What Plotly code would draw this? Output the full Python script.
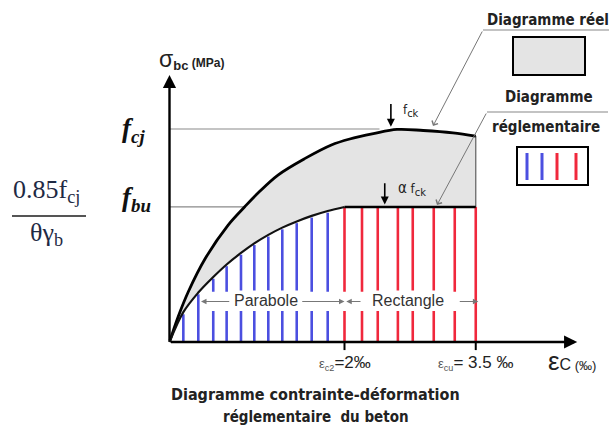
import plotly.graph_objects as go

# ---------------- data ----------------
# strain in per-mille, stress relative to f_cj
FCJ = 1.0
FBU = 0.634
EPS_C2 = 2.0
EPS_CU = 3.5

EPS_REAL = [0, 0.10, 0.215, 0.41, 0.67, 0.86, 1.02, 1.24, 1.55, 1.85, 2.06, 2.33, 2.60, 2.90, 3.24, 3.5]
SIG_REAL = [0, 0.12, 0.236, 0.393, 0.549, 0.635, 0.703, 0.784, 0.862, 0.925, 0.953, 0.978, 0.998, 0.993, 0.982, 0.967]

EPS_PARA = [0, 0.158, 0.329, 0.50, 0.653, 0.817, 0.969, 1.129, 1.289, 1.454, 1.625, 1.808, 2.0]
SIG_PARA = [0, 0.140, 0.232, 0.305, 0.364, 0.418, 0.463, 0.503, 0.537, 0.566, 0.592, 0.615, 0.634]

BLUE_X = [0.158, 0.329, 0.50, 0.653, 0.817, 0.969, 1.129, 1.289, 1.454, 1.625, 1.808]
BLUE_TOP = [0.130, 0.224, 0.297, 0.356, 0.410, 0.455, 0.495, 0.529, 0.558, 0.584, 0.607]
RED_X = [2.0, 2.2, 2.38, 2.61, 2.78, 3.02, 3.26, 3.5]

FCJ_LINE_END = 2.40
FBU_LINE_END = 0.86
X_AXIS_END = 4.66
Y_AXIS_END = 1.254

TICK_LABELS = ["<span style='font-size:13px;color:#555'>ε<sub>c2</sub></span>=2‰",
               "<span style='font-size:13px;color:#555'>ε<sub>cu</sub></span>= 3.5 ‰"]

BLUE = "#4b4fe0"
RED = "#f0283c"
GREY_FILL = "#e4e4e4"
SANS = "Liberation Sans Narrow, DejaVu Sans Condensed, Liberation Sans, Arial"
SERIF = "Liberation Serif, Times New Roman, serif"

W, H = 615, 429
X0PX, XSC = 169.5, 87.5
Y0PX, YSC = 342.0, 213.0


def PX(x):
    return x / W


def PY(y):
    return 1 - y / H


fig = go.Figure()

# grey area between real diagram and regulatory diagram
reg_x = EPS_PARA + [EPS_CU]
reg_y = SIG_PARA + [FBU]
poly_x = EPS_REAL + [EPS_CU] + reg_x[::-1]
poly_y = SIG_REAL + [FBU] + reg_y[::-1]
fig.add_trace(go.Scatter(x=poly_x, y=poly_y, fill="toself", fillcolor=GREY_FILL,
                         line=dict(width=0), mode="lines", hoverinfo="skip"))

# reference horizontal lines
fig.add_trace(go.Scatter(x=[0, FCJ_LINE_END], y=[FCJ, FCJ], mode="lines",
                         line=dict(color="#8a8a8a", width=1.2)))
fig.add_trace(go.Scatter(x=[0, FBU_LINE_END], y=[FBU, FBU], mode="lines",
                         line=dict(color="#8a8a8a", width=1.2)))

# hatch lines
bx, by = [], []
for x, t in zip(BLUE_X, BLUE_TOP):
    bx += [x, x, None]
    by += [0, t, None]
fig.add_trace(go.Scatter(x=bx, y=by, mode="lines", line=dict(color=BLUE, width=2.6)))
rx, ry = [], []
for x in RED_X:
    rx += [x, x, None]
    ry += [0, FBU, None]
fig.add_trace(go.Scatter(x=rx, y=ry, mode="lines", line=dict(color=RED, width=2.6)))

# right edge of grey area
fig.add_trace(go.Scatter(x=[EPS_CU, EPS_CU], y=[FBU, SIG_REAL[-1]], mode="lines",
                         line=dict(color="#6a6a6a", width=1.3)))

# curves
fig.add_trace(go.Scatter(x=EPS_REAL, y=SIG_REAL, mode="lines", line_shape="spline",
                         line=dict(color="black", width=2.8)))
fig.add_trace(go.Scatter(x=EPS_PARA, y=SIG_PARA, mode="lines", line_shape="spline",
                         line=dict(color="#111", width=2.2)))
fig.add_trace(go.Scatter(x=[EPS_C2, EPS_CU], y=[FBU, FBU], mode="lines",
                         line=dict(color="black", width=2.4)))

# ticks on the strain axis
fig.add_trace(go.Scatter(x=[EPS_C2, EPS_C2, None, EPS_CU, EPS_CU],
                         y=[0, -0.038, None, 0, -0.038], mode="lines",
                         line=dict(color="black", width=2)))

# white band behind "Parabole" / "Rectangle"
fig.add_shape(type="rect", xref="x", yref="y", x0=0.40, x1=3.40, y0=0.146, y1=0.236,
              fillcolor="white", line=dict(width=0), layer="above")

ann = []


def txt(xp, yp, text, size, family=SANS, color="#222", xanchor="center", **kw):
    ann.append(dict(x=PX(xp), y=PY(yp), xref="paper", yref="paper", xanchor=xanchor, yanchor="middle",
                    text=text, showarrow=False, font=dict(family=family, size=size, color=color), **kw))


# axes with arrows
ann.append(dict(x=0, y=Y_AXIS_END, ax=0, ay=0, axref="x", ayref="y", xref="x", yref="y",
                text="", showarrow=True, arrowhead=2, arrowsize=1.1, arrowwidth=2.4, arrowcolor="black"))
ann.append(dict(x=X_AXIS_END, y=0, ax=0, ay=0, axref="x", ayref="y", xref="x", yref="y",
                text="", showarrow=True, arrowhead=2, arrowsize=1.1, arrowwidth=2.4, arrowcolor="black"))

# Parabole / Rectangle dimension arrows
arr_y = 0.19
for head, tail in [(0.36, 0.70), (2.0, 1.50), (2.02, 2.20), (3.53, 3.30)]:
    ann.append(dict(x=head, y=arr_y, ax=tail, ay=arr_y, axref="x", ayref="y", xref="x", yref="y",
                    text="", showarrow=True, arrowhead=2, arrowsize=1, arrowwidth=1.1, arrowcolor="#777"))
ann.append(dict(x=1.10, y=0.196, xref="x", yref="y", text="Parabole", showarrow=False,
                xanchor="center", yanchor="middle",
                font=dict(family="Liberation Sans, Arial", size=16, color="#333"), bgcolor="white"))
ann.append(dict(x=2.72, y=0.196, xref="x", yref="y", text="Rectangle", showarrow=False,
                xanchor="center", yanchor="middle",
                font=dict(family="Liberation Sans, Arial", size=16, color="#333"), bgcolor="white"))

# f_ck arrows
ann.append(dict(x=2.53, y=1.01, ax=2.53, ay=1.125, axref="x", ayref="y", xref="x", yref="y",
                text="", showarrow=True, arrowhead=2, arrowsize=1, arrowwidth=1.6, arrowcolor="black"))
ann.append(dict(x=2.46, y=FBU + 0.012, ax=2.46, ay=0.752, axref="x", ayref="y", xref="x", yref="y",
                text="", showarrow=True, arrowhead=2, arrowsize=1, arrowwidth=1.6, arrowcolor="black"))
txt(401, 111, "f<sub><span style='font-size:11px'>ck</span></sub>", 13, xanchor="left")
txt(396, 189, "<span style='font-size:15px'>α</span> f<sub><span style='font-size:11px'>ck</span></sub>", 13,
    xanchor="left")

# axis titles
txt(157, 59, "<span style='font-size:23px'>σ</span><b><sub><span style='font-size:13px'>bc</span></sub>"
             " (MPa)</b>", 12, family="Liberation Sans, Arial", xanchor="left")
txt(546, 361, "<span style='font-size:26px'>ε</span><span style='font-size:16px'>C</span> (‰)", 13,
    family="Liberation Sans, Arial", xanchor="left")
for xv, lab in zip([EPS_C2, EPS_CU], TICK_LABELS):
    ann.append(dict(x=xv, y=-0.10, xref="x", yref="y", text=lab, showarrow=False,
                    xanchor="center", yanchor="middle",
                    font=dict(family="Liberation Sans, Arial", size=17, color="#222")))

# left labels
txt(133, 130, "<b><i>f<sub>cj</sub></i></b>", 27, family=SERIF, color="#111")
txt(136, 199, "<b><i>f<sub>bu</sub></i></b>", 27, family=SERIF, color="#111")
txt(11, 191, "0.85f<sub>cj</sub>", 26, family=SERIF, color="#1f2a44", xanchor="left")
txt(28, 234, "θγ<sub>b</sub>", 26, family=SERIF, color="#1f2a44", xanchor="left")
fig.add_shape(type="line", xref="paper", yref="paper", x0=PX(12), x1=PX(86), y0=PY(216), y1=PY(216),
              line=dict(color="#555", width=2))

# caption
txt(315, 394, "<b>Diagramme contrainte-déformation</b>", 16)
txt(316, 417, "<b>réglementaire  du beton</b>", 15)

# legend texts
txt(548, 20, "<b>Diagramme réel</b>", 15)
txt(549, 97, "<b>Diagramme</b>", 15)
txt(546, 127, "<b>réglementaire</b>", 15)

# leader lines
ann.append(dict(x=PX(433), y=PY(126), xref="paper", yref="paper", ax=50, ay=-96, text="",
                showarrow=True, arrowhead=4, arrowsize=1.3, arrowwidth=1, arrowcolor="#777"))
ann.append(dict(x=PX(437), y=PY(205), xref="paper", yref="paper", ax=50, ay=-93, text="",
                showarrow=True, arrowhead=4, arrowsize=1.3, arrowwidth=1, arrowcolor="#777"))
fig.add_shape(type="line", xref="paper", yref="paper", x0=PX(483), x1=PX(609), y0=PY(30), y1=PY(30),
              line=dict(color="#888", width=1.2))
fig.add_shape(type="line", xref="paper", yref="paper", x0=PX(487), x1=PX(608), y0=PY(112), y1=PY(112),
              line=dict(color="#888", width=1.2))

# legend boxes
fig.add_shape(type="rect", xref="paper", yref="paper", x0=PX(513), x1=PX(585), y0=PY(75), y1=PY(37),
              fillcolor=GREY_FILL, line=dict(color="black", width=2))
fig.add_shape(type="rect", xref="paper", yref="paper", x0=PX(517), x1=PX(588), y0=PY(185), y1=PY(147),
              fillcolor="white", line=dict(color="black", width=2))
for xp, c in [(527, BLUE), (542, BLUE), (557, RED), (576, RED)]:
    fig.add_shape(type="line", xref="paper", yref="paper", x0=PX(xp), x1=PX(xp), y0=PY(180), y1=PY(153),
                  line=dict(color=c, width=3))

fig.update_layout(
    width=W, height=H, autosize=False,
    margin=dict(l=0, r=0, t=0, b=0),
    paper_bgcolor="white", plot_bgcolor="white",
    showlegend=False,
    annotations=ann,
    xaxis=dict(visible=False, range=[-X0PX / XSC, (W - X0PX) / XSC], fixedrange=True),
    yaxis=dict(visible=False, range=[-(H - Y0PX) / YSC, Y0PX / YSC], fixedrange=True),
)

fig.write_html("out.html", config=dict(displayModeBar=False),
               post_script="document.body.style.margin='0px';document.body.style.overflow='hidden';")
